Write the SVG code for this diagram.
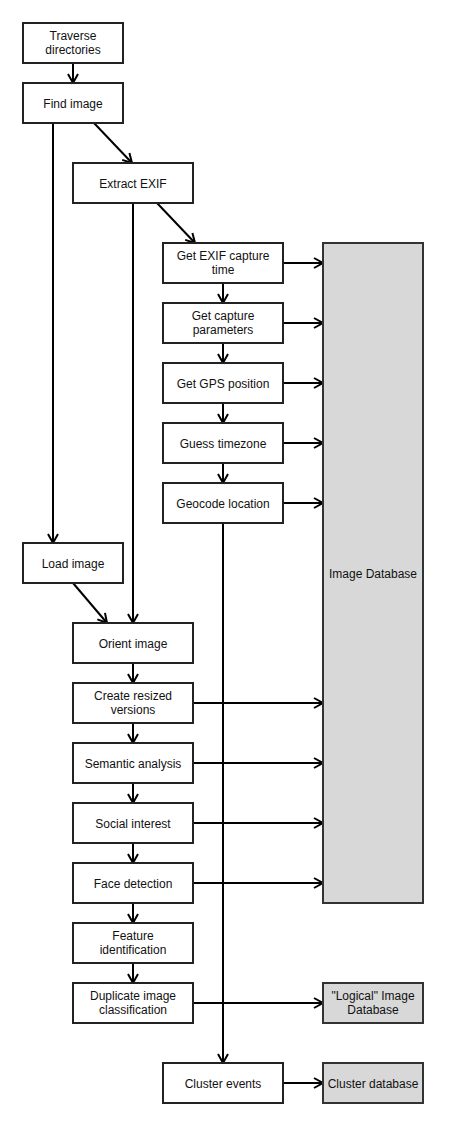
<svg xmlns="http://www.w3.org/2000/svg" width="455" height="1123" viewBox="0 0 455 1123">
<style>
.n rect{fill:#fff;stroke:#222;stroke-width:2}
.db rect{fill:#d8d8d8;stroke:#333;stroke-width:2}
text{font-family:"Liberation Sans",Arial,sans-serif;font-size:12px;fill:#111;text-anchor:middle}
.c path{fill:none;stroke:#000;stroke-width:2;marker-end:url(#a)}
</style>
<defs>
<marker id="a" markerUnits="userSpaceOnUse" markerWidth="14" markerHeight="14" refX="10" refY="6" orient="auto" viewBox="0 0 14 12">
<path d="M1,1 L10,6 L1,11" fill="none" stroke="#000" stroke-width="2"/>
</marker>
</defs>
<rect width="455" height="1123" fill="#fff"/>
<g class="c" id="connectors">
<path d="M73,63 V83"/>
<path d="M94,123 L132,163"/>
<path d="M53,123 V543"/>
<path d="M157,203 L195,243"/>
<path d="M133,203 V623"/>
<path d="M223,283 V303"/>
<path d="M223,343 V363"/>
<path d="M223,403 V423"/>
<path d="M223,463 V483"/>
<path d="M223,523 V1063"/>
<path d="M283,263 H323"/>
<path d="M283,323 H323"/>
<path d="M283,383 H323"/>
<path d="M283,443 H323"/>
<path d="M283,503 H323"/>
<path d="M73,583 L107,623"/>
<path d="M133,663 V683"/>
<path d="M133,723 V743"/>
<path d="M133,783 V803"/>
<path d="M133,843 V863"/>
<path d="M133,903 V923"/>
<path d="M133,963 V983"/>
<path d="M193,703 H323"/>
<path d="M193,763 H323"/>
<path d="M193,823 H323"/>
<path d="M193,883 H323"/>
<path d="M193,1003 H323"/>
<path d="M283,1083 H323"/>
</g>
<g class="n" id="traverse"><rect x="23" y="23" width="100" height="40"/><text x="73" y="39.5">Traverse</text><text x="73" y="53.5">directories</text></g>
<g class="n" id="find"><rect x="23" y="83" width="100" height="40"/><text x="73" y="107.5">Find image</text></g>
<g class="n" id="extract"><rect x="73" y="163" width="120" height="40"/><text x="133" y="187.5">Extract EXIF</text></g>
<g class="n" id="capturetime"><rect x="163" y="243" width="120" height="40"/><text x="223" y="259.5">Get EXIF capture</text><text x="223" y="273.5">time</text></g>
<g class="n" id="captureparams"><rect x="163" y="303" width="120" height="40"/><text x="223" y="319.5">Get capture</text><text x="223" y="333.5">parameters</text></g>
<g class="n" id="gps"><rect x="163" y="363" width="120" height="40"/><text x="223" y="387.5">Get GPS position</text></g>
<g class="n" id="timezone"><rect x="163" y="423" width="120" height="40"/><text x="223" y="447.5">Guess timezone</text></g>
<g class="n" id="geocode"><rect x="163" y="483" width="120" height="40"/><text x="223" y="507.5">Geocode location</text></g>
<g class="db" id="imagedb"><rect x="323" y="243" width="100" height="660"/><text x="373" y="577.5">Image Database</text></g>
<g class="n" id="load"><rect x="23" y="543" width="100" height="40"/><text x="73" y="567.5">Load image</text></g>
<g class="n" id="orient"><rect x="73" y="623" width="120" height="40"/><text x="133" y="647.5">Orient image</text></g>
<g class="n" id="resize"><rect x="73" y="683" width="120" height="40"/><text x="133" y="699.5">Create resized</text><text x="133" y="713.5">versions</text></g>
<g class="n" id="semantic"><rect x="73" y="743" width="120" height="40"/><text x="133" y="767.5">Semantic analysis</text></g>
<g class="n" id="social"><rect x="73" y="803" width="120" height="40"/><text x="133" y="827.5">Social interest</text></g>
<g class="n" id="face"><rect x="73" y="863" width="120" height="40"/><text x="133" y="887.5">Face detection</text></g>
<g class="n" id="feature"><rect x="73" y="923" width="120" height="40"/><text x="133" y="939.5">Feature</text><text x="133" y="953.5">identification</text></g>
<g class="n" id="duplicate"><rect x="73" y="983" width="120" height="40"/><text x="133" y="999.5">Duplicate image</text><text x="133" y="1013.5">classification</text></g>
<g class="db" id="logicaldb"><rect x="323" y="983" width="100" height="40"/><text x="373" y="999.5">"Logical" Image</text><text x="373" y="1013.5">Database</text></g>
<g class="n" id="cluster"><rect x="163" y="1063" width="120" height="40"/><text x="223" y="1087.5">Cluster events</text></g>
<g class="db" id="clusterdb"><rect x="323" y="1063" width="100" height="40"/><text x="373" y="1087.5">Cluster database</text></g>
</svg>
